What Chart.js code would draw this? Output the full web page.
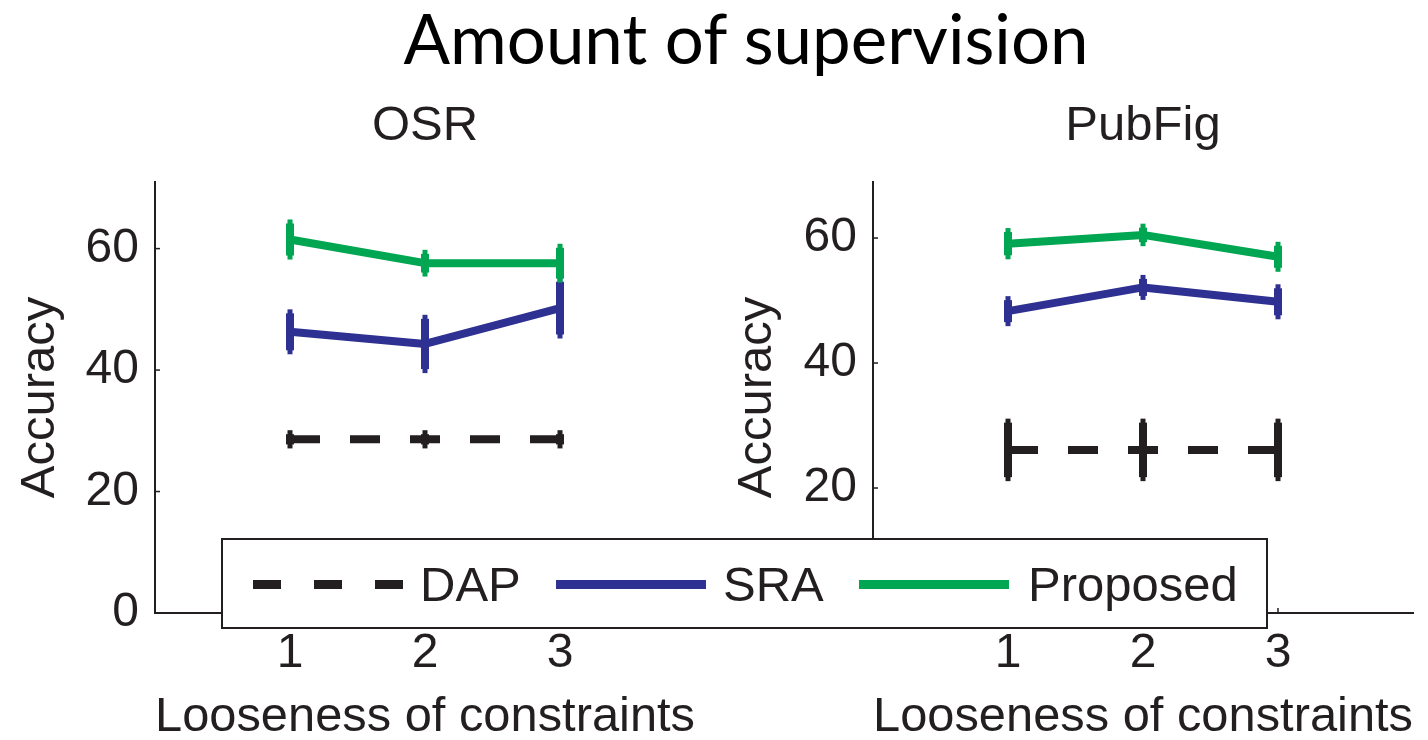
<!DOCTYPE html>
<html>
<head>
<meta charset="utf-8">
<script src="https://cdn.jsdelivr.net/npm/chart.js@4.4.1/dist/chart.umd.min.js"></script>
<style>
  body { margin: 0; background: #fff; width: 1428px; height: 740px; overflow: hidden; position: relative; font-family: 'Liberation Sans', Arial, sans-serif; color: #231f20; }
  .pane { position: absolute; top: 0; width: 714px; height: 740px; }
  #mainTitle { position: absolute; left: 0; width: 1492px; top: -4px; text-align: center; font-family: Lato, 'Open Sans', sans-serif; font-size: 69px; line-height: 84px; color: #000; }
  #legend { position: absolute; left: 221px; top: 538px; width: 1043px; height: 87px; border: 2px solid #231f20; background: #fff; }
  #legend .sample { position: absolute; top: 40px; height: 9px; width: 150px; }
  #legend .lbl { position: absolute; top: 20px; font-size: 49px; line-height: 49px; white-space: nowrap; }
</style>
</head>
<body>
<div id="mainTitle">Amount of supervision</div>
<div class="pane" style="left:0"><canvas id="osrChart"></canvas></div>
<div class="pane" style="left:714px"><canvas id="pubChart"></canvas></div>
<div id="legend"></div>

<script>
// data
var looseness = [1, 2, 3];
var xTicks = [1, 2, 3];
var yTicks = [0, 20, 40, 60];
var seriesNames = ['DAP', 'SRA', 'Proposed'];

// OSR
var osrDap = [28.6, 28.6, 28.6];
var osrDapErr = [1.5, 1.5, 1.5];
var osrSra = [46.3, 44.3, 50.2];
var osrSraErr = [3.7, 4.8, 5.0];
var osrProposed = [61.5, 57.6, 57.6];
var osrProposedErr = [3.3, 2.2, 3.2];

// PubFig
var pubDap = [26.1, 26.1, 26.1];
var pubDapErr = [5.0, 5.0, 5.0];
var pubSra = [48.3, 52.1, 49.8];
var pubSraErr = [2.4, 2.0, 2.8];
var pubProposed = [59.1, 60.5, 57.0];
var pubProposedErr = [2.5, 1.8, 2.4];

var black = '#231f20';
var blue = '#2e3192';
var green = '#00a651';
var colors = [black, blue, green];

Chart.defaults.font.family = "'Liberation Sans', Arial, sans-serif";
Chart.defaults.color = black;

function toPoints(ys) {
    return looseness.map(function(x, i) { return {x: x, y: ys[i]}; });
}

// vertical error bars, drawn through the chart scales
var errorBars = {
    id: 'errorBars',
    afterDatasetsDraw: function(chart) {
        var ctx = chart.ctx;
        var xs = chart.scales.x, ys = chart.scales.y;
        chart.data.datasets.forEach(function(ds) {
            if (!ds.err) return;
            ctx.save();
            ctx.strokeStyle = ds.borderColor;
            ds.data.forEach(function(p, i) {
                var px = xs.getPixelForValue(p.x);
                var top = ys.getPixelForValue(p.y + ds.err[i]);
                var bot = ys.getPixelForValue(p.y - ds.err[i]);
                ctx.lineWidth = 5;
                ctx.beginPath(); ctx.moveTo(px, top); ctx.lineTo(px, bot); ctx.stroke();
                ctx.lineWidth = 8;
                ctx.beginPath(); ctx.moveTo(px, top + 4); ctx.lineTo(px, bot - 4); ctx.stroke();
            });
            ctx.restore();
        });
    }
};

// small inward tick marks like the original axes
var innerTicks = {
    id: 'innerTicks',
    afterDraw: function(chart) {
        var ctx = chart.ctx;
        var xs = chart.scales.x, ys = chart.scales.y;
        var area = chart.chartArea;
        ctx.save();
        ctx.strokeStyle = black;
        ctx.lineWidth = 1.5;
        yTicks.forEach(function(v) {
            var py = ys.getPixelForValue(v);
            ctx.beginPath(); ctx.moveTo(area.left, py); ctx.lineTo(area.left + 5, py); ctx.stroke();
        });
        xTicks.forEach(function(v) {
            var px = xs.getPixelForValue(v);
            ctx.beginPath(); ctx.moveTo(px, area.bottom); ctx.lineTo(px, area.bottom - 5); ctx.stroke();
        });
        ctx.restore();
    }
};

function makeChart(id, title, dap, dapErr, sra, sraErr, prop, propErr, yMax, yWidth, rightPad, yTitlePad) {
    var values = [dap, sra, prop];
    var errs = [dapErr, sraErr, propErr];
    var datasets = seriesNames.map(function(name, i) {
        return {
            label: name,
            data: toPoints(values[i]),
            err: errs[i],
            borderColor: colors[i],
            backgroundColor: colors[i],
            borderWidth: 8,
            borderDash: i === 0 ? [30, 30] : [],
            borderCapStyle: 'butt',
            borderJoinStyle: 'round',
            pointRadius: 0,
            tension: 0
        };
    });

    return new Chart(document.getElementById(id), {
        type: 'line',
        data: { datasets: datasets },
        plugins: [errorBars, innerTicks],
        options: {
            responsive: true,
            maintainAspectRatio: false,
            animation: false,
            layout: { padding: { left: 0, right: rightPad, top: 0, bottom: 0 } },
            plugins: {
                legend: { display: false },
                tooltip: { enabled: false },
                title: {
                    display: true,
                    fullSize: false,
                    text: title,
                    color: black,
                    font: { size: 49, weight: 'normal' },
                    padding: { top: 97, bottom: 26 }
                }
            },
            scales: {
                x: {
                    type: 'linear',
                    min: 0,
                    max: 4,
                    afterBuildTicks: function(s) { s.ticks = xTicks.map(function(v) { return {value: v}; }); },
                    afterFit: function(s) { s.height = 127; },
                    grid: { display: false, drawTicks: false },
                    border: { display: true, color: black, width: 2 },
                    ticks: { color: black, font: { size: 48 }, padding: 12 },
                    title: {
                        display: true,
                        text: 'Looseness of constraints',
                        color: black,
                        font: { size: 49, lineHeight: 1 },
                        padding: { top: 0, bottom: -2 }
                    }
                },
                y: {
                    min: 0,
                    max: yMax,
                    afterBuildTicks: function(s) { s.ticks = yTicks.map(function(v) { return {value: v}; }); },
                    afterFit: function(s) { s.width = yWidth; },
                    grid: { display: false, drawTicks: false },
                    border: { display: true, color: black, width: 2 },
                    ticks: { color: black, font: { size: 48 }, padding: 16 },
                    title: {
                        display: true,
                        text: 'Accuracy',
                        color: black,
                        font: { size: 49 },
                        padding: { top: yTitlePad, bottom: 0 }
                    }
                }
            }
        }
    });
}

makeChart('osrChart', 'OSR', osrDap, osrDapErr, osrSra, osrSraErr, osrProposed, osrProposedErr, 71, 155, 19, 11);
makeChart('pubChart', 'PubFig', pubDap, pubDapErr, pubSra, pubSraErr, pubProposed, pubProposedErr, 69, 159, 15, 14);

// shared legend box across both panels
var legendSpots = [
    { line: 30, text: 197 },
    { line: 333, text: 500 },
    { line: 636, text: 805 }
];
var legend = document.getElementById('legend');
seriesNames.forEach(function(name, i) {
    var s = document.createElement('div');
    s.className = 'sample';
    s.style.left = legendSpots[i].line + 'px';
    if (i === 0) {
        s.style.background = 'repeating-linear-gradient(90deg, ' + black + ' 0 28px, transparent 28px 61px)';
    } else {
        s.style.background = colors[i];
    }
    legend.appendChild(s);
    var t = document.createElement('div');
    t.className = 'lbl';
    t.style.left = legendSpots[i].text + 'px';
    t.textContent = name;
    legend.appendChild(t);
});
</script>
</body>
</html>
